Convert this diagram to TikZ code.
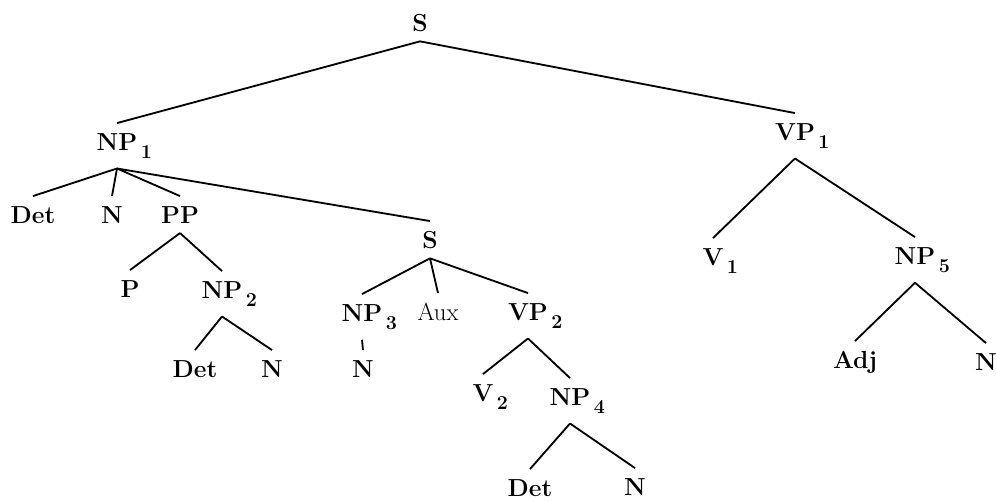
\documentclass[tikz,border=0pt]{standalone}
\newcommand\sbs[1]{\rlap{\kern2.5pt\raisebox{-6pt}{\fontsize{14}{15}\selectfont #1}}}
\tikzset{cat/.style={font=\fontsize{17.5}{20}\selectfont\bfseries,anchor=base,
    text height=12pt,inner xsep=1pt,inner ysep=6.5pt}}
\begin{document}
\begin{tikzpicture}[x=0.025cm,y=-0.025cm,line width=1.3pt]
  \useasboundingbox (0,0) rectangle (996,501);
  \node[cat] (S)    at (420,31)  {S};
  \node[cat] (NP1)  at (117,150) {NP\sbs{1}};
  \node[cat] (VP1)  at (795,140) {VP\sbs{1}};
  \node[cat] (Det1) at (33,223)  {Det};
  \node[cat] (N1)   at (112,223) {N};
  \node[cat] (PP)   at (180,223) {PP};
  \node[cat] (S2)   at (430,248) {S};
  \node[cat] (P)    at (130,297) {P};
  \node[cat] (NP2)  at (222,298) {NP\sbs{2}};
  \node[cat] (Det2) at (195,377) {Det};
  \node[cat] (N2)   at (272,377) {N};
  \node[cat] (NP3)  at (362,321) {NP\sbs{3}};
  \node[cat,font=\fontsize{17.5}{20}\selectfont] (Aux) at (438,320) {Aux};
  \node[cat] (VP2)  at (528,320) {VP\sbs{2}};
  \node[cat] (N3)   at (363,377) {N};
  \node[cat] (V2)   at (483,401) {V\sbs{2}};
  \node[cat] (NP4)  at (570,405) {NP\sbs{4}};
  \node[cat] (Det4) at (530,496) {Det};
  \node[cat] (N4)   at (635,495) {N};
  \node[cat] (V1)   at (713,265) {V\sbs{1}};
  \node[cat] (NP5)  at (915,264) {NP\sbs{5}};
  \node[cat] (Adj)  at (855,368) {Adj};
  \node[cat] (N5)   at (986,370) {N};
  \foreach \a/\b in {S/NP1,S/VP1,NP1/Det1,NP1/N1,NP1/PP,NP1/S2,PP/P,PP/NP2,
      NP2/Det2,NP2/N2,S2/NP3,S2/Aux,S2/VP2,NP3/N3,VP2/V2,VP2/NP4,NP4/Det4,
      NP4/N4,VP1/V1,VP1/NP5,NP5/Adj,NP5/N5}
    \draw (\a.south) -- (\b.north);
\end{tikzpicture}
\end{document}
